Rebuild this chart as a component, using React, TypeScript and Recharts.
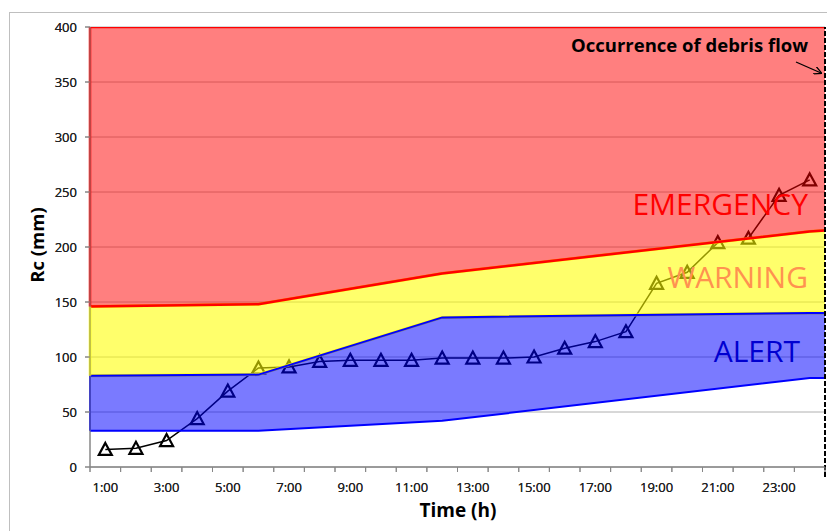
import React from 'react';
import { ComposedChart, Area, Line, XAxis, YAxis, CartesianGrid, ReferenceLine } from 'recharts';

// hourly cumulative rainfall index Rc (mm)
const hours = [1, 2, 3, 4, 5, 6, 7, 8, 9, 10, 11, 12, 13, 14, 15, 16, 17, 18, 19, 20, 21, 22, 23, 24];
const rcValues = [16, 17, 24, 44, 69, 90, 91, 96, 97, 97, 97, 99, 99, 99, 100, 108, 114, 123, 167, 177, 204, 208, 247, 261];

// threshold breakpoints; 0.5 and 24.5 are the outer edges of the hour axis
const thresholdHours = [0.5, 6, 12, 24, 24.5];
const alertFloor = [33, 33, 42, 81, 81];
const warningFloor = [83, 84, 136, 140, 140];
const emergencyFloor = [146, 148, 176, 214, 215];
const emergencyCeil = [400, 400, 400, 400, 400];

// hour at which the debris flow happened
const debrisHour = 24.5;

const yTicks = [0, 50, 100, 150, 200, 250, 300, 350, 400];
const hourLabels = ['1:00', '3:00', '5:00', '7:00', '9:00', '11:00', '13:00', '15:00', '17:00', '19:00', '21:00', '23:00'];

const rcRows = hours.map((h, i) => ({ hour: h, rc: rcValues[i] }));
const bandRows = thresholdHours.map((h, i) => ({
  hour: h,
  alert: [alertFloor[i], warningFloor[i]],
  warning: [warningFloor[i], emergencyFloor[i]],
  emergency: [emergencyFloor[i], emergencyCeil[i]],
}));

// tick marks sit between the hours, labels on every other hour
const xTicks = hours.flatMap((h) => [h - 0.5, h]).concat(hours[hours.length - 1] + 0.5);

const FONT = '"Open Sans", "Noto Sans", sans-serif';
const AXIS_GRAY = '#868686';
const W = 827;
const H = 531;
const MARGIN = { top: 27, right: 2, bottom: 34, left: 8 };

const HourTick = (props: any) => {
  const { x, y, payload } = props;
  const v = payload.value;
  if (!Number.isInteger(v)) {
    return <line x1={x} y1={y - 5} x2={x} y2={y} stroke={AXIS_GRAY} strokeWidth={1} />;
  }
  const label = hourLabels.find((l) => parseInt(l, 10) === v);
  if (!label) return null;
  return (
    <text x={x} y={y + 20} textAnchor="middle" fontSize={13} fontFamily={FONT} fill="#222">
      {label}
    </text>
  );
};

const Triangle = (props: any) => {
  const { cx, cy } = props;
  if (cx == null || cy == null) return null;
  return (
    <polygon
      points={`${cx},${cy - 6.5} ${cx + 6.5},${cy + 5.5} ${cx - 6.5},${cy + 5.5}`}
      fill="none"
      stroke="#000"
      strokeWidth={2.2}
    />
  );
};

// note + arrow hung off the dashed debris-flow line
const DebrisNote = (props: any) => {
  const vb = props.viewBox || {};
  const x = vb.x ?? 0;
  const y = vb.y ?? 0;
  return (
    <g>
      <defs>
        <marker id="debrisArrow" markerWidth="8" markerHeight="8" refX="7" refY="4" orient="auto" markerUnits="userSpaceOnUse">
          <path d="M0,0 L8,4 L0,8" fill="none" stroke="#000" strokeWidth={1.3} />
        </marker>
      </defs>
      <text x={x - 17} y={y + 25} textAnchor="end" fontSize={18.5} fontWeight={700} fontFamily={FONT} fill="#000">
        Occurrence of debris flow
      </text>
      <line x1={x - 29} y1={y + 35} x2={x - 4} y2={y + 46} stroke="#000" strokeWidth={1.3} markerEnd="url(#debrisArrow)" />
    </g>
  );
};

// both layers share the same axes so their scales line up exactly
const axes = () => [
  <XAxis
    key="x"
    dataKey="hour"
    type="number"
    domain={[0.5, 24.5]}
    ticks={xTicks}
    interval={0}
    allowDataOverflow
    height={30}
    stroke={AXIS_GRAY}
    tickLine={false}
    tickSize={5}
    tickMargin={0}
    tick={<HourTick />}
  />,
  <YAxis
    key="y"
    type="number"
    domain={[0, 400]}
    ticks={yTicks}
    interval={0}
    allowDataOverflow
    width={82}
    stroke={AXIS_GRAY}
    tickSize={5}
    tickMargin={8}
    tick={{ fontSize: 13, fontFamily: FONT, fill: '#222' }}
  />,
];

const layer: React.CSSProperties = { position: 'absolute', left: 0, top: 0 };

export default function App() {
  return (
    <div style={{ position: 'fixed', left: 0, top: 0, width: W, height: H, overflow: 'hidden', background: '#fff' }}>
      <div
        style={{
          position: 'absolute',
          left: 9,
          top: 12,
          width: 900,
          height: 600,
          borderTop: '1px solid #BFBFBF',
          borderLeft: '1px solid #BFBFBF',
        }}
      />
      {/* lower layer: grid and the observed Rc series */}
      <ComposedChart width={W} height={H} margin={MARGIN} style={layer}>
        <CartesianGrid horizontal vertical={false} stroke="#B0B0B0" strokeWidth={1} />
        {axes()}
        <Line
          data={rcRows}
          dataKey="rc"
          type="linear"
          stroke="#000"
          strokeWidth={1.5}
          dot={<Triangle />}
          activeDot={false}
          isAnimationActive={false}
        />
      </ComposedChart>
      {/* upper layer: translucent warning bands over the series */}
      <ComposedChart width={W} height={H} margin={MARGIN} style={layer}>
        {axes()}
        <Area
          data={bandRows}
          dataKey="warning"
          type="linear"
          fill="#FFFF00"
          fillOpacity={0.58}
          stroke="#FFFF00"
          strokeWidth={3}
          isAnimationActive={false}
        />
        <Area
          data={bandRows}
          dataKey="alert"
          type="linear"
          fill="#0000FF"
          fillOpacity={0.52}
          stroke="#0000FF"
          strokeWidth={2}
          isAnimationActive={false}
        />
        <Area
          data={bandRows}
          dataKey="emergency"
          type="linear"
          fill="#FF0000"
          fillOpacity={0.5}
          stroke="#FF0000"
          strokeWidth={2.5}
          isAnimationActive={false}
        />
        <ReferenceLine
          segment={[{ x: thresholdHours[0], y: alertFloor[0] }, { x: thresholdHours[0], y: warningFloor[0] }]}
          stroke="#0000FF"
          strokeWidth={2}
        />
        <ReferenceLine
          segment={[{ x: thresholdHours[0], y: warningFloor[0] }, { x: thresholdHours[0], y: emergencyFloor[0] }]}
          stroke="#FFFF00"
          strokeWidth={2.5}
        />
        <ReferenceLine
          segment={[{ x: thresholdHours[0], y: emergencyFloor[0] }, { x: thresholdHours[0], y: emergencyCeil[0] }]}
          stroke="#FF0000"
          strokeWidth={2.5}
        />
        <ReferenceLine
          segment={[{ x: debrisHour, y: -9 }, { x: debrisHour, y: 400 }]}
          stroke="#000"
          strokeWidth={2}
          strokeDasharray="5 2"
          ifOverflow="visible"
        />
        <ReferenceLine x={debrisHour} stroke="none" ifOverflow="visible" label={<DebrisNote />} />
      </ComposedChart>
      <svg width={W} height={H} style={{ ...layer, pointerEvents: 'none' }}>
        <text x={808} y={215} textAnchor="end" fontSize={30} fontFamily={FONT} fill="#FF0000">EMERGENCY</text>
        <text x={808} y={288} textAnchor="end" fontSize={30} fontFamily={FONT} fill="#FF9250">WARNING</text>
        <text x={800} y={362} textAnchor="end" fontSize={30} fontFamily={FONT} fill="#0000D0">ALERT</text>
        <text
          x={36}
          y={245}
          transform="rotate(-90 36 245)"
          textAnchor="middle"
          dominantBaseline="central"
          fontSize={18.5}
          fontWeight={700}
          fontFamily={FONT}
          fill="#000"
        >
          Rc (mm)
        </text>
        <text x={458} y={517} textAnchor="middle" fontSize={19} fontWeight={700} fontFamily={FONT} fill="#000">
          Time (h)
        </text>
      </svg>
    </div>
  );
}
